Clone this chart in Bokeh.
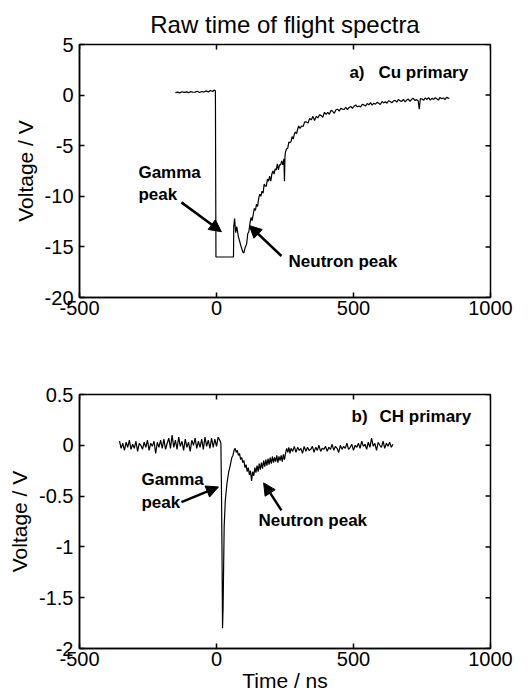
from bokeh.plotting import figure
from bokeh.layouts import column
from bokeh.models import (Range1d, FixedTicker, Label, Arrow, NormalHead, CustomJSTickFormatter)
from bokeh.embed import file_html
from bokeh.resources import INLINE

# ---------------- data ----------------
cu_time = [-150, -142, -134, -126, -118, -110, -102, -94, -86, -78, -70, -62, -54, -46, -38, -30, -22, -14, -8, -4,
           -2, 62, 63, 66, 70, 74, 80, 88, 96, 100,
           104, 110, 114, 118, 122, 126, 130, 134, 138, 142, 146, 150, 154, 158, 162, 166, 170, 174, 178, 182,
           186, 190, 194, 198, 202, 206, 210, 214, 218, 222, 226, 230, 234, 238, 242, 246, 248, 250, 252,
           256, 260, 264, 268, 272, 276, 280, 284, 288, 292, 296, 300, 305,
           310, 316, 322, 328, 334, 340, 346, 352, 358, 364, 370, 376, 382, 388, 394, 400, 406, 412, 418, 424,
           430, 436, 442, 448, 454, 460, 466, 472, 478, 484, 490, 496, 502, 508, 514, 520, 526, 532, 538, 544,
           550, 556, 562, 568, 574, 580, 586, 592, 598, 604, 610, 616, 622, 628, 634, 640, 646, 652, 658, 664,
           670, 676, 682, 688, 694, 700, 706, 712, 718, 724, 730, 736,
           740, 744,
           750, 756, 762, 768, 774, 780, 786, 792, 798, 804, 810, 816, 822, 828, 834, 840, 846, 850]
cu_volt = [0.25, 0.3, 0.22, 0.33, 0.27, 0.32, 0.24, 0.35, 0.28, 0.3, 0.38, 0.26, 0.36, 0.3, 0.42, 0.32, 0.45, 0.35, 0.5, 0.4,
           -16.0, -16.0, -13.0, -12.2, -13.6, -13.0, -14.0, -14.8, -15.5, -15.6,
           -15.1, -14.7, -13.7, -13.5, -12.7, -12.1, -12.4, -11.8, -11.2, -11.4, -10.8, -11.0, -10.2, -9.8, -10.0, -9.5, -9.7, -8.8, -9.0, -9.0,
           -8.3, -8.5, -8.0, -8.5, -7.8, -7.5, -7.8, -7.3, -7.4, -6.8, -7.4, -6.9, -6.9, -6.5, -6.9, -6.3, -8.5, -6.0, -5.6,
           -5.3, -5.25, -4.65, -4.7, -4.6, -4.1, -4.35, -3.85, -3.65, -3.8, -3.4, -3.05, -3.3,
           -3.05, -3.1, -2.65, -2.65, -2.75, -2.3, -2.45, -2.1, -2.5, -2.1, -2.25, -1.95, -2.0, -2.2, -1.7, -1.9, -1.7, -1.9, -1.5, -1.6,
           -1.8, -1.45, -1.4, -1.58, -1.3, -1.4, -1.42, -1.2, -1.43, -1.22, -1.12, -1.31, -1.1, -0.98, -1.16, -1.07, -1.17, -0.92, -0.97, -1.07,
           -0.83, -0.96, -0.75, -1.0, -0.8, -0.9, -0.72, -0.8, -0.93, -0.64, -0.77, -0.66, -0.8, -0.56, -0.63, -0.77, -0.57, -0.52, -0.7, -0.43,
           -0.57, -0.62, -0.42, -0.68, -0.49, -0.4, -0.61, -0.42, -0.32, -0.52, -0.45, -0.56,
           -1.4, -0.33,
           -0.39, -0.51, -0.28, -0.43, -0.24, -0.5, -0.32, -0.43, -0.26, -0.36, -0.5, -0.23, -0.37, -0.28, -0.44, -0.21, -0.3, -0.33]

ch_base_time = [-354 + 6 * i for i in range(62)]
ch_base_volt = [0.04, -0.03, 0.02, -0.05, 0.03, -0.02, 0.05, -0.04, 0.01, -0.03,
                0.04, -0.06, 0.02, 0.00, -0.04, 0.03, -0.02, 0.05, -0.05, 0.02,
                -0.01, 0.04, -0.08, 0.03, -0.02, 0.05, -0.03, 0.06, -0.04, 0.02,
                0.07, -0.03, 0.10, -0.02, 0.05, -0.04, 0.08, -0.01, 0.04, -0.05,
                0.06, -0.02, 0.03, -0.06, 0.05, 0.00, 0.07, -0.03, 0.04, -0.02,
                0.06, -0.04, 0.08, -0.01, 0.05, -0.03, 0.07, -0.02, 0.06, -0.01,
                0.08, 0.05]
ch_peak_time = [16, 18, 20, 22, 24, 26, 28, 32, 38, 44, 50, 56, 60, 64, 68, 72, 76, 80, 84, 88, 92, 96, 100,
                104, 108, 112, 116, 120, 124, 128, 132, 136, 140, 144, 148, 152, 156, 160, 164, 168, 172, 176,
                180, 184, 188, 192, 196, 200, 204, 208, 212, 216, 220, 224, 228, 232, 236, 240, 244, 248, 252,
                256, 260, 264, 268, 272]
ch_peak_volt = [0.02, -0.4, -1.0, -1.8, -1.6, -1.2, -0.8, -0.55, -0.38, -0.27, -0.2, -0.12, -0.1, -0.05, -0.03, -0.07,
                -0.05, -0.1, -0.08, -0.14, -0.12, -0.17, -0.15, -0.22, -0.19, -0.26, -0.22, -0.29, -0.25, -0.35, -0.26,
                -0.3, -0.22, -0.27, -0.2, -0.26, -0.18, -0.24, -0.17, -0.23, -0.15, -0.21, -0.14, -0.2, -0.13, -0.19,
                -0.12, -0.18, -0.11, -0.17, -0.12, -0.16, -0.1, -0.17, -0.11, -0.15, -0.1, -0.16, -0.09, -0.14, -0.08,
                -0.03, -0.07, -0.02, -0.08, -0.03]
ch_tail_time = [278 + 6 * i for i in range(62)]
ch_tail_volt = [-0.06, -0.01, -0.07, -0.02, -0.05, -0.03, -0.08, -0.01, -0.06, -0.02,
                -0.05, -0.04, -0.01, -0.07, -0.02, -0.05, 0.00, -0.06, -0.03, -0.04,
                -0.01, -0.06, -0.02, -0.04, 0.01, -0.05, -0.01, -0.03, -0.07, 0.00,
                -0.04, -0.01, -0.03, 0.02, -0.04, -0.02, 0.01, -0.05, 0.00, -0.02,
                0.02, -0.03, 0.04, -0.01, 0.01, -0.04, 0.03, -0.02, 0.07, -0.01,
                0.02, -0.05, 0.03, 0.00, -0.02, 0.04, -0.03, 0.02, -0.01, 0.03,
                -0.02, 0.01]
ch_time = ch_base_time + ch_peak_time + ch_tail_time
ch_volt = ch_base_volt + ch_peak_volt + ch_tail_volt

x_ticks = [-500, 0, 500, 1000]
cu_y_ticks = [5, 0, -5, -10, -15, -20]
ch_y_ticks = [0.5, 0, -0.5, -1, -1.5, -2]

n = min(len(cu_time), len(cu_volt))
cu_time, cu_volt = cu_time[:n], cu_volt[:n]

FONT = "Liberation Sans"
X_RANGE = (-500, 1000)
TICK_PX = 5


def make_fig(height, yr, yticks, top, bottom, xlabel=None, title=None):
    width = 529
    left, right = 79, 39
    p = figure(width=width, height=height, x_range=Range1d(*X_RANGE), y_range=Range1d(*yr),
               output_backend="svg", toolbar_location=None,
               min_border_left=left, min_border_right=right, min_border_top=top, min_border_bottom=bottom)
    p.grid.visible = False
    p.outline_line_color = "black"
    p.outline_line_width = 1.5
    p.background_fill_color = "white"
    p.border_fill_color = "white"
    fmt = CustomJSTickFormatter(code="return String(Math.round(tick*100)/100);")
    for ax, ticks in ((p.xaxis[0], x_ticks), (p.yaxis[0], yticks)):
        ax.ticker = FixedTicker(ticks=ticks)
        ax.formatter = fmt
        ax.major_tick_in = TICK_PX
        ax.major_tick_out = 0
        ax.minor_tick_line_color = None
        ax.axis_line_color = "black"
        ax.axis_line_width = 1.5
        ax.major_tick_line_width = 1.5
        ax.major_label_text_font = FONT
        ax.major_label_text_font_size = "20px"
        ax.major_label_text_color = "black"
        ax.axis_label_text_font = FONT
        ax.axis_label_text_font_size = "21px"
        ax.axis_label_text_font_style = "normal"
        ax.axis_label_text_color = "black"
    p.xaxis[0].major_label_standoff = 3
    p.yaxis[0].major_label_standoff = 6
    p.yaxis[0].axis_label = "Voltage / V"
    p.yaxis[0].axis_label_standoff = 5
    if xlabel:
        p.xaxis[0].axis_label = xlabel
        p.xaxis[0].axis_label_standoff = 0
    # mirrored inward ticks on the top and right edges of the box
    frame_w = width - left - right
    frame_h = height - top - bottom
    dy = (yr[1] - yr[0]) / frame_h * TICK_PX
    dx = (X_RANGE[1] - X_RANGE[0]) / frame_w * TICK_PX
    p.segment(x0=x_ticks, y0=[yr[1]] * len(x_ticks), x1=x_ticks, y1=[yr[1] - dy] * len(x_ticks),
              line_color="black", line_width=1.5)
    p.segment(x0=[X_RANGE[1]] * len(yticks), y0=yticks, x1=[X_RANGE[1] - dx] * len(yticks), y1=yticks,
              line_color="black", line_width=1.5)
    if title:
        p.title.text = title
        p.title.align = "center"
        p.title.text_font = FONT
        p.title.text_font_size = "24px"
        p.title.text_font_style = "normal"
        p.title.text_color = "black"
        p.title.standoff = 14
    return p


def label(p, x, y, text, size="17px", bold=True):
    p.add_layout(Label(x=x, y=y, text=text, text_font=FONT, text_font_size=size,
                       text_font_style="bold" if bold else "normal", text_baseline="middle",
                       text_align="left", text_color="black"))


def arrow(p, x0, y0, x1, y1):
    p.add_layout(Arrow(end=NormalHead(size=12, fill_color="black", line_color="black"),
                       x_start=x0, y_start=y0, x_end=x1, y_end=y1, line_width=2.5, line_color="black"))


p1 = make_fig(340, (-20, 5), cu_y_ticks, 44, 43, title="Raw time of flight spectra")
p1.line(cu_time, cu_volt, line_color="black", line_width=1.2)
label(p1, 485, 2.25, "a)")
label(p1, 591, 2.25, "Cu primary")
label(p1, -285, -7.65, "Gamma")
label(p1, -285, -9.8, "peak")
arrow(p1, -128, -10.6, 18, -13.5)
label(p1, 263, -16.4, "Neutron peak")
arrow(p1, 237, -15.9, 120, -12.9)

p2 = make_fig(358, (-2, 0.5), ch_y_ticks, 54, 50, xlabel="Time / ns")
p2.line(ch_time, ch_volt, line_color="black", line_width=1.2)
label(p2, 493, 0.28, "b)")
label(p2, 595, 0.28, "CH primary")
label(p2, -274, -0.34, "Gamma")
label(p2, -274, -0.56, "peak")
arrow(p2, -128, -0.56, 7, -0.41)
label(p2, 153, -0.74, "Neutron peak")
arrow(p2, 237, -0.64, 172, -0.37)

layout = column(p1, p2, spacing=0)
open("out.html", "w").write(file_html(layout, INLINE))
